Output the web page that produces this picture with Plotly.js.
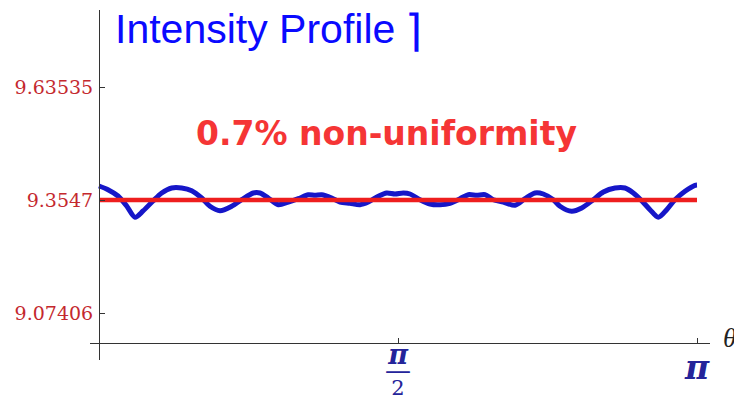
<!DOCTYPE html>
<html>
<head>
<meta charset="utf-8">
<script src="https://cdn.plot.ly/plotly-3.0.1.min.js"></script>
<style>html,body{margin:0;padding:0;background:#fff;}#chart{width:734px;height:409px;}</style>
</head>
<body>
<div id="chart"></div>
<script>
// Intensity profile (theta in radians)
const theta = [0, 0.0473, 0.0998, 0.1455, 0.1891, 0.2312, 0.2837, 0.3294, 0.3819, 0.4345, 0.4870, 0.5395, 0.5831, 0.6357, 0.6971, 0.7497, 0.8106, 0.8458, 0.8894, 0.9420, 0.9945, 1.0470, 1.0996, 1.1348, 1.1700, 1.2225, 1.2661, 1.3186, 1.3712, 1.4148, 1.4673, 1.5114, 1.5550, 1.5987, 1.6339, 1.6864, 1.7389, 1.7915, 1.8440, 1.8966, 1.9402, 1.9843, 2.0279, 2.0715, 2.1240, 2.1855, 2.2380, 2.2905, 2.3341, 2.3867, 2.4219, 2.4834, 2.5359, 2.5968, 2.6494, 2.7108, 2.7634, 2.8070, 2.8511, 2.8947, 2.9383, 2.9824, 3.0260, 3.0786, 3.1311, 3.1416];
const intensity = [9.3895, 9.3803, 9.3646, 9.3398, 9.3117, 9.3274, 9.3522, 9.3721, 9.3845, 9.3845, 9.3778, 9.3597, 9.3391, 9.3281, 9.3391, 9.3554, 9.3721, 9.3721, 9.3597, 9.3430, 9.3497, 9.3579, 9.3679, 9.3664, 9.3679, 9.3597, 9.3497, 9.3465, 9.3430, 9.3497, 9.3639, 9.3721, 9.3696, 9.3721, 9.3696, 9.3554, 9.3448, 9.3430, 9.3465, 9.3579, 9.3679, 9.3664, 9.3679, 9.3554, 9.3497, 9.3415, 9.3579, 9.3721, 9.3696, 9.3554, 9.3391, 9.3266, 9.3348, 9.3554, 9.3746, 9.3845, 9.3845, 9.3721, 9.3530, 9.3306, 9.3117, 9.3306, 9.3554, 9.3763, 9.3912, 9.3920];

// Mean level
const meanTheta = [0, Math.PI];
const meanValue = [9.3547, 9.3547];

// Ticks
const yTickVals = [9.07406, 9.3547, 9.63535];
const yTickText = ['9.07406', '9.3547', '9.63535'];
const xTickVals = [Math.PI / 2, Math.PI];
const xTickText = [
  '<span style="font-size:27px"><b><i>π</i></b></span><br><span style="font-size:26px">—</span><br><span style="font-size:21px">2</span>',
  '<br><span style="font-size:33px"><b><i>π</i></b></span>'
];

const titleText = 'Intensity Profile';
const noteText = '0.7% non-uniformity';
const axisLabel = 'θ';

const traces = [
  {
    x: theta, y: intensity, type: 'scatter', mode: 'lines',
    line: {color: '#1616c8', width: 5, shape: 'spline', smoothing: 0.8},
    hoverinfo: 'skip'
  },
  {
    x: meanTheta, y: meanValue, type: 'scatter', mode: 'lines',
    line: {color: '#ee1e1e', width: 4.6},
    hoverinfo: 'skip'
  }
];

const layout = {
  width: 734, height: 409,
  margin: {l: 90, r: 24, t: 10, b: 49},
  paper_bgcolor: '#ffffff', plot_bgcolor: '#ffffff',
  showlegend: false,
  title: {
    text: titleText, xref: 'container', yref: 'container',
    x: 115 / 734, xanchor: 'left', y: 1 - 28.5 / 409, yanchor: 'middle',
    font: {family: 'Liberation Sans, Arial, sans-serif', size: 41, color: '#0a0aff'}
  },
  xaxis: {
    range: [-0.0473, 3.2099],
    anchor: 'free', position: 17 / 350,
    showline: true, linecolor: '#333333', linewidth: 1.3,
    showgrid: false, zeroline: false,
    ticks: 'inside', ticklen: 5, tickcolor: '#333333', tickwidth: 1,
    tickvals: xTickVals, ticktext: xTickText,
    tickfont: {family: 'DejaVu Serif, serif', size: 12, color: '#24249a'},
    ticklabelstandoff: 5
  },
  yaxis: {
    range: [8.95732, 9.82658],
    anchor: 'free', position: 9 / 620,
    showline: true, linecolor: '#333333', linewidth: 1.3,
    showgrid: false, zeroline: false,
    ticks: 'inside', ticklen: 5, tickcolor: '#333333', tickwidth: 1,
    tickvals: yTickVals, ticktext: yTickText,
    tickfont: {family: 'DejaVu Serif, serif', size: 19, color: '#c4282e'},
    ticklabelstandoff: 2
  },
  annotations: [
    {
      text: noteText, xref: 'paper', yref: 'paper',
      x: (386.7 - 90) / 620, y: (360 - 133.3) / 350,
      xanchor: 'center', yanchor: 'middle', showarrow: false,
      font: {family: 'DejaVu Sans, sans-serif', size: 33, color: '#f53535', weight: 'bold'}
    },
    {
      text: '⌉', xref: 'paper', yref: 'paper',
      x: (413 - 90) / 620, y: (360 - 30) / 350,
      xanchor: 'center', yanchor: 'middle', showarrow: false,
      font: {family: 'DejaVu Sans ExtraLight, DejaVu Sans, sans-serif', size: 44, color: '#0a0aff', weight: 200}
    },
    {
      text: '<i>' + axisLabel + '</i>', xref: 'paper', yref: 'paper',
      x: (721 - 90) / 620, y: (360 - 338) / 350,
      xanchor: 'left', yanchor: 'middle', showarrow: false,
      font: {family: 'Liberation Serif, serif', size: 27, color: '#222222'}
    }
  ]
};

Plotly.newPlot('chart', traces, layout, {staticPlot: true, displayModeBar: false});
</script>
</body>
</html>
